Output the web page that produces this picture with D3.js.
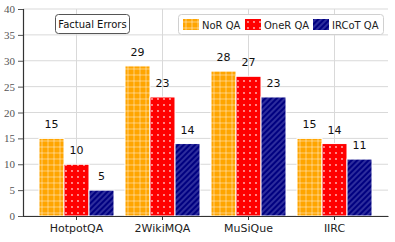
<!DOCTYPE html>
<html>
<head>
<meta charset="utf-8">
<script src="https://cdn.jsdelivr.net/npm/d3@7"></script>
<style>
  body { margin: 0; background: #fff; }
  svg { display: block; }
</style>
</head>
<body>
<svg id="chart" width="395" height="242"></svg>
<script>
const categories  = ["HotpotQA", "2WikiMQA", "MuSiQue", "IIRC"];
const seriesNames = ["NoR QA", "OneR QA", "IRCoT QA"];
const norQA       = [15, 29, 28, 15];
const oneRQA      = [10, 23, 27, 14];
const ircotQA     = [5, 14, 23, 11];
const yTicks      = [0, 5, 10, 15, 20, 25, 30, 35, 40];
const chartTitle  = "Factual Errors";

const main = function() {
  const series = [norQA, oneRQA, ircotQA];
  const rows = categories.map((c, i) => ({
    cat: c,
    vals: series.map((s, j) => ({ key: seriesNames[j], idx: j, value: s[i] }))
  }));
  drawChart(rows);
}();

function makePatterns(defs) {
  // NoR: orange with light grid
  const p1 = defs.append("pattern").attr("id", "pat0")
    .attr("patternUnits", "userSpaceOnUse").attr("width", 6).attr("height", 6);
  p1.append("rect").attr("width", 6).attr("height", 6).attr("fill", "#ffa500");
  p1.append("path").attr("d", "M3,0V6M0,3H6")
    .attr("stroke", "#ffffff").attr("stroke-opacity", 0.45).attr("stroke-width", 1);

  // OneR: red with white dots
  const p2 = defs.append("pattern").attr("id", "pat1")
    .attr("patternUnits", "userSpaceOnUse").attr("width", 6).attr("height", 6);
  p2.append("rect").attr("width", 6).attr("height", 6).attr("fill", "#ff0000");
  p2.append("circle").attr("cx", 3).attr("cy", 3).attr("r", 0.9)
    .attr("fill", "#ffffff").attr("fill-opacity", 0.75);

  // IRCoT: navy with diagonal lines
  const p3 = defs.append("pattern").attr("id", "pat2")
    .attr("patternUnits", "userSpaceOnUse").attr("width", 4).attr("height", 4)
    .attr("patternTransform", "rotate(-45)");
  p3.append("rect").attr("width", 4).attr("height", 4).attr("fill", "#000080");
  p3.append("line").attr("x1", 0).attr("y1", 2).attr("x2", 4).attr("y2", 2)
    .attr("stroke", "#5a5ab8").attr("stroke-width", 1);
}

function drawChart(rows) {
  const svg = d3.select("#chart");
  const left = 23, right = 388, top = 9, bottom = 216;

  makePatterns(svg.append("defs"));

  const x0 = d3.scaleBand()
    .domain(categories)
    .range([left, right])
    .paddingInner(0.128)
    .paddingOuter(0.186);
  const x1 = d3.scaleBand()
    .domain(seriesNames)
    .range([0, x0.bandwidth()]);
  const y = d3.scaleLinear().domain([0, 40]).range([bottom, top]);

  // grid
  svg.append("g")
    .selectAll("line")
    .data(yTicks)
    .join("line")
      .attr("x1", left).attr("x2", right)
      .attr("y1", d => y(d)).attr("y2", d => y(d))
      .attr("stroke", "#d9d9d9").attr("stroke-width", 1);
  svg.append("g")
    .selectAll("line")
    .data(categories)
    .join("line")
      .attr("x1", d => x0(d) + x0.bandwidth() / 2)
      .attr("x2", d => x0(d) + x0.bandwidth() / 2)
      .attr("y1", top).attr("y2", bottom)
      .attr("stroke", "#d9d9d9").attr("stroke-width", 1);

  // bars
  const groups = svg.append("g")
    .selectAll("g")
    .data(rows)
    .join("g")
      .attr("transform", d => `translate(${x0(d.cat)},0)`);

  groups.selectAll("rect")
    .data(d => d.vals)
    .join("rect")
      .attr("x", d => x1(d.key))
      .attr("y", d => y(d.value))
      .attr("width", x1.bandwidth())
      .attr("height", d => y(0) - y(d.value))
      .attr("fill", d => `url(#pat${d.idx})`)
      .attr("stroke", "#ffffff")
      .attr("stroke-width", 1);

  groups.selectAll("text")
    .data(d => d.vals)
    .join("text")
      .attr("x", d => x1(d.key) + x1.bandwidth() / 2)
      .attr("y", d => y(d.value) - 10)
      .attr("text-anchor", "middle")
      .attr("font-family", "DejaVu Sans")
      .attr("font-size", 11)
      .attr("fill", "#111")
      .text(d => d.value);

  // y axis
  const yAxis = svg.append("g")
    .attr("transform", `translate(${left},0)`)
    .call(d3.axisLeft(y).tickValues(yTicks).tickSize(5).tickPadding(3));
  yAxis.select(".domain").attr("stroke", "#333").attr("stroke-width", 1.2);
  yAxis.selectAll(".tick line").attr("stroke", "#555");
  yAxis.selectAll(".tick text")
    .attr("font-family", "Liberation Serif")
    .attr("font-size", 11)
    .attr("fill", "#555");

  // x axis
  const xAxis = svg.append("g")
    .attr("transform", `translate(0,${bottom})`)
    .call(d3.axisBottom(x0).tickSize(4).tickPadding(4).tickSizeOuter(0));
  xAxis.select(".domain").attr("stroke", "#333").attr("stroke-width", 1.2);
  xAxis.selectAll(".tick line").attr("stroke", "#333");
  xAxis.selectAll(".tick text")
    .attr("font-family", "DejaVu Sans")
    .attr("font-size", 11)
    .attr("fill", "#222");

  // title box
  const tb = svg.append("g");
  tb.append("rect")
    .attr("x", 55.5).attr("y", 14.5).attr("width", 74).attr("height", 19)
    .attr("rx", 3).attr("fill", "#fff").attr("stroke", "#555");
  tb.append("text")
    .attr("x", 92.5).attr("y", 27.5)
    .attr("text-anchor", "middle")
    .attr("font-family", "DejaVu Sans").attr("font-size", 10)
    .attr("fill", "#111")
    .text(chartTitle);

  // legend
  const lg = svg.append("g");
  lg.append("rect")
    .attr("x", 178.5).attr("y", 14.5).attr("width", 205).attr("height", 20)
    .attr("rx", 3).attr("fill", "#fff").attr("stroke", "#d0d0d0");
  const legendX = [183, 245, 313];
  const items = lg.selectAll("g.item")
    .data(seriesNames)
    .join("g")
      .attr("class", "item")
      .attr("transform", (d, i) => `translate(${legendX[i]},19)`);
  items.append("rect")
    .attr("width", 16).attr("height", 11)
    .attr("fill", (d, i) => `url(#pat${i})`);
  items.append("text")
    .attr("x", 19).attr("y", 9.5)
    .attr("font-family", "DejaVu Sans").attr("font-size", 10)
    .attr("fill", "#222")
    .text(d => d);
}
</script>
</body>
</html>
